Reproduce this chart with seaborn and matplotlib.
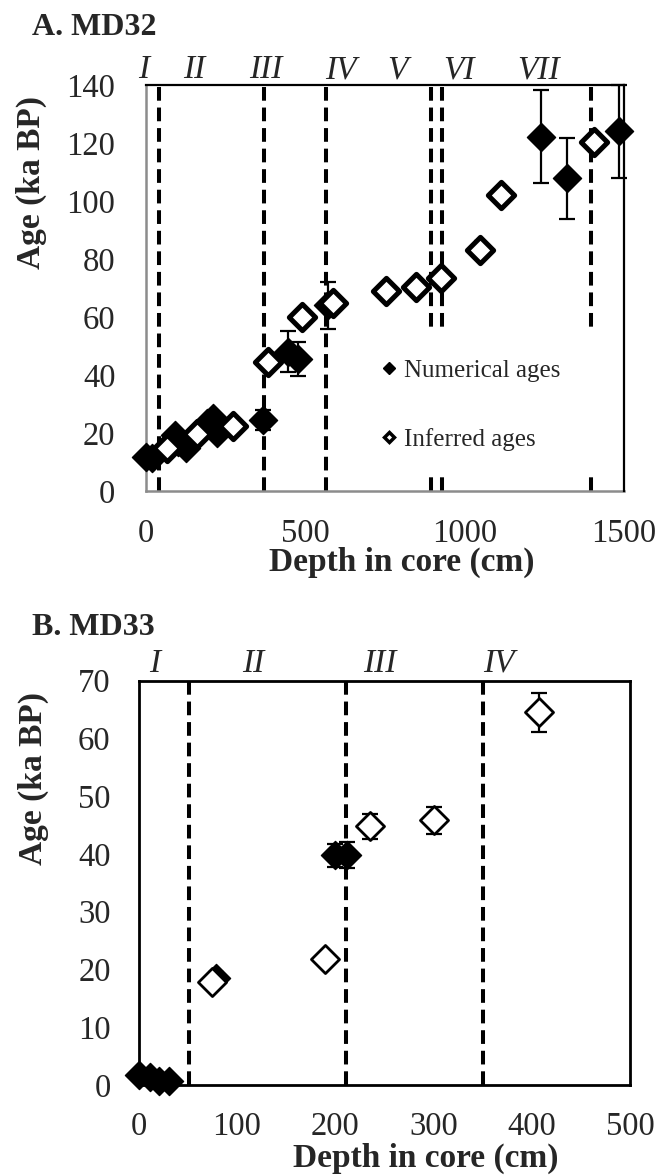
import numpy as np
import pandas as pd
import matplotlib
matplotlib.use("Agg")
import matplotlib.pyplot as plt
import matplotlib.transforms as mtransforms
from matplotlib.lines import Line2D
from matplotlib.patches import Rectangle
from matplotlib.ticker import MultipleLocator
import seaborn as sns

# ---------------- MD32 core ----------------
md32_num_depth = [0, 20, 92, 102, 125, 190, 210, 222, 368, 447, 478, 570, 1240, 1320, 1485]
md32_num_age = [11.8, 11.3, 19.3, 17.0, 14.7, 23.3, 25.0, 20.0, 24.5, 48.0, 45.5, 64.0, 122.2, 107.8, 124.0]
md32_num_err = [1.0, 1.0, 1.0, 1.0, 1.0, 1.5, 1.5, 1.5, 3.5, 7.0, 6.0, 8.0, 16.0, 14.0, 16.0]

md32_inf_depth = [65, 159, 272, 384, 488, 586, 753, 846, 926, 1048, 1115, 1407]
md32_inf_age = [14.9, 19.5, 22.5, 44.6, 60.0, 64.8, 68.8, 70.4, 73.4, 83.1, 102.0, 120.4]
md32_inf_err = [1.0, 1.0, 1.0, 1.0, 1.0, 1.0, 1.0, 1.0, 2.5, 3.0, 1.0, 2.0]

md32_bounds = [40, 370, 565, 895, 928, 1395]
md32_units = ["I", "II", "III", "IV", "V", "VI", "VII"]

# ---------------- MD33 core ----------------
md33_num_depth = [0, 12, 21, 31, 79, 200, 212]
md33_num_age = [1.8, 1.3, 0.7, 0.7, 18.6, 39.8, 39.8]
md33_num_err = [0.3, 0.3, 0.3, 0.3, 1.0, 2.0, 2.2]

md33_inf_depth = [75, 190, 236, 301, 407]
md33_inf_age = [17.9, 21.8, 44.8, 45.8, 64.5]
md33_inf_err = [0.0, 0.0, 2.2, 2.4, 3.4]

md33_bounds = [51, 211, 350]
md33_units = ["I", "II", "III", "IV"]

# label placement along the depth axis for the unit numerals
md32_unit_x = [-6, 152, 377, 610, 789, 981, 1233]
md33_unit_x = [16, 117, 245, 367]

sns.set_style("white")
plt.rcParams["font.family"] = ["Liberation Serif", "DejaVu Serif"]
plt.rcParams["mathtext.default"] = "regular"

TICK_FS = 23.5
LABEL_FS = 24
GRAY = "#8c8c8c"

fig = plt.figure(figsize=(6.63, 11.76), dpi=100)
axA = fig.add_axes([0.2202, 0.5825, 0.7210, 0.3452])
axB = fig.add_axes([0.2089, 0.0774, 0.7413, 0.3438])


def dashed_bounds(ax, xs):
    for x in xs:
        ax.axvline(x, color="black", lw=2.9, ls=(0, (3.4, 1.7)), zorder=1)


def unit_labels(ax, names, xs, yfrac):
    tr = mtransforms.blended_transform_factory(ax.transData, ax.transAxes)
    for n, x in zip(names, xs):
        ax.text(x, yfrac, n, transform=tr, ha="center", va="baseline",
                fontsize=LABEL_FS, fontstyle="italic", clip_on=False)


def draw_points(ax, depth, age, err, filled, size, lw, capsize, z):
    df = pd.DataFrame({"depth": depth, "age": age, "err": err})
    ax.errorbar(df["depth"], df["age"], yerr=df["err"], fmt="none",
                ecolor="black", elinewidth=1.6, capsize=capsize, capthick=1.6,
                zorder=z - 0.5, clip_on=False)
    sns.scatterplot(data=df, x="depth", y="age", ax=ax, marker="D", s=size,
                    color="black" if filled else "white", edgecolor="black",
                    linewidth=lw, zorder=z, legend=False, clip_on=False)


# ---------------- panel A ----------------
dashed_bounds(axA, md32_bounds)
draw_points(axA, md32_num_depth, md32_num_age, md32_num_err, True, 205, 1.0, 6, 4)
draw_points(axA, md32_inf_depth, md32_inf_age, md32_inf_err, False, 180, 3.6, 4, 5)

axA.set_xlim(0, 1500)
axA.set_ylim(0, 140)
axA.xaxis.set_major_locator(MultipleLocator(500))
axA.xaxis.set_minor_locator(MultipleLocator(100))
axA.yaxis.set_major_locator(MultipleLocator(20))
axA.yaxis.set_minor_locator(MultipleLocator(10))
axA.tick_params(which="both", direction="in", length=6, width=1.5, color=GRAY,
                top=False, right=False)
axA.tick_params(axis="x", which="major", pad=20, labelsize=TICK_FS)
axA.tick_params(axis="y", which="major", pad=22, labelsize=TICK_FS)
for side in ("left", "bottom"):
    axA.spines[side].set_color(GRAY)
    axA.spines[side].set_linewidth(1.8)
for side in ("top", "right"):
    axA.spines[side].set_color("black")
    axA.spines[side].set_linewidth(1.6)
    axA.spines[side].set_zorder(6)

axA.set_xlabel("Depth in core (cm)", fontsize=LABEL_FS, fontweight="bold")
axA.set_ylabel("Age (ka BP)", fontsize=LABEL_FS, fontweight="bold")
axA.xaxis.label.set_va("center")
axA.yaxis.label.set_va("center")
axA.xaxis.set_label_coords(0.536, -0.177)
axA.yaxis.set_label_coords(-0.2406, 0.761)
unit_labels(axA, md32_units, md32_unit_x, 1.017)

# white legend panel
axA.add_patch(Rectangle((0.479, 0.034), 0.481, 0.355, transform=axA.transAxes,
                        facecolor="white", edgecolor="none", zorder=2))
handles = [
    Line2D([], [], ls="none", marker="D", ms=6.5, mfc="black", mec="black"),
    Line2D([], [], ls="none", marker="D", ms=5.5, mfc="white", mec="black", mew=2.5),
]
axA.legend(handles, ["Numerical ages", "Inferred ages"], loc="upper left",
           bbox_to_anchor=(0.4927, 0.324), frameon=False, borderpad=0,
           borderaxespad=0, handlelength=0.6, handletextpad=0.3,
           labelspacing=1.85, prop={"size": 18})

# ---------------- panel B ----------------
dashed_bounds(axB, md33_bounds)
draw_points(axB, md33_num_depth, md33_num_age, md33_num_err, True, 205, 1.0, 6, 4)
draw_points(axB, md33_inf_depth, md33_inf_age, md33_inf_err, False, 205, 2.0, 6, 5)

axB.set_xlim(0, 500)
axB.set_ylim(0, 70)
axB.xaxis.set_major_locator(MultipleLocator(100))
axB.xaxis.set_minor_locator(MultipleLocator(50))
axB.yaxis.set_major_locator(MultipleLocator(10))
axB.yaxis.set_minor_locator(MultipleLocator(5))
axB.tick_params(which="both", direction="in", length=6, width=1.8, color="black",
                top=False, right=False)
axB.tick_params(axis="x", which="major", pad=19, labelsize=TICK_FS)
axB.tick_params(axis="y", which="major", pad=20, labelsize=TICK_FS)
for side in ("left", "bottom", "top", "right"):
    axB.spines[side].set_color("black")
    axB.spines[side].set_linewidth(2.0)
    axB.spines[side].set_zorder(6)

axB.set_xlabel("Depth in core (cm)", fontsize=LABEL_FS, fontweight="bold")
axB.set_ylabel("Age (ka BP)", fontsize=LABEL_FS, fontweight="bold")
axB.xaxis.label.set_va("center")
axB.yaxis.label.set_va("center")
axB.xaxis.set_label_coords(0.585, -0.1806)
axB.yaxis.set_label_coords(-0.2146, 0.757)
unit_labels(axB, md33_units, md33_unit_x, 1.0215)

# panel titles
fig.text(32 / 663, 1 - 35 / 1176, "A. MD32", fontsize=23, fontweight="bold",
         ha="left", va="baseline")
fig.text(32 / 663, 1 - 635 / 1176, "B. MD33", fontsize=23, fontweight="bold",
         ha="left", va="baseline")

fig.savefig("out.png", dpi=100, facecolor="white")
